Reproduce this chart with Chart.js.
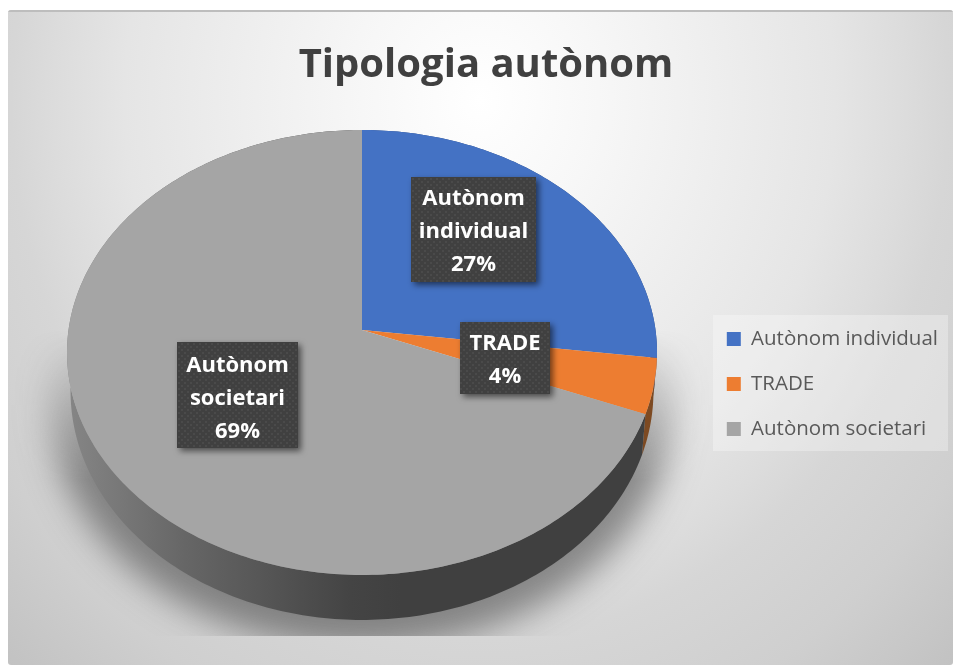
<!DOCTYPE html>
<html><head><meta charset="utf-8">
<style>html,body{margin:0;padding:0;background:#fff}canvas{display:block}</style>
<script src="https://cdn.jsdelivr.net/npm/chart.js@4"></script></head>
<body><div style="width:953px;height:665px"><canvas id="c" width="953" height="665"></canvas></div>
<script>
const titleText = 'Tipologia autònom';
const categories = ['Autònom individual', 'TRADE', 'Autònom societari'];
const values = [27, 4, 69];
const topColors = ['#4472c4', '#ed7d31', '#a5a5a5'];

// perspective view of the pie disc
const view = {cx: 362, cy: 330, A: 293.5, B: 220.2, k: -0.101, lowerWidth: 0.988};
function project(a, r, dropBase, dropNear) {
  const u = r * Math.cos(a), v = r * Math.sin(a), d = 1 + view.k * v;
  const lowered = dropBase !== undefined;
  const drop = lowered ? dropBase + dropNear * Math.sin(a) : 0;
  return [view.cx + (lowered ? view.lowerWidth : 1) * view.A * u / d, view.cy + view.B * v / d + drop];
}
const Arc = Chart.registry.getElement('arc');
Arc.prototype.draw = function (ctx) {
  const {startAngle, endAngle} = this.getProps(['startAngle', 'endAngle']);
  ctx.save();
  ctx.beginPath();
  ctx.moveTo(...project(startAngle, 0));
  const n = Math.ceil((endAngle - startAngle) * 60);
  for (let i = 0; i <= n; i++) ctx.lineTo(...project(startAngle + (endAngle - startAngle) * i / n, 1));
  ctx.closePath();
  ctx.fillStyle = this.options.backgroundColor;
  ctx.fill();
  ctx.restore();
};

const backdrop = {
  id: 'backdrop',
  beforeDraw(chart) {
    const c = chart.ctx;
    c.save();
    c.fillStyle = '#fff'; c.fillRect(0, 0, 953, 665);
    c.beginPath(); c.roundRect(8, 10, 945, 655, 3); c.clip();
    c.save();
    c.translate(480, 100); c.scale(540, 620);
    const g = c.createRadialGradient(0, 0, 0, 0, 0, 1.4);
    g.addColorStop(0, '#ffffff'); g.addColorStop(0.157, '#f7f7f7');
    g.addColorStop(0.47, '#e5e5e5'); g.addColorStop(0.564, '#dcdcdc');
    g.addColorStop(0.62, '#d6d6d6'); g.addColorStop(0.757, '#cfcfcf');
    g.addColorStop(0.89, '#c3c3c3'); g.addColorStop(1, '#bdbdbd');
    c.fillStyle = g; c.fillRect(-2, -2, 4, 4);
    c.restore();
    c.fillStyle = '#bdbdbd'; c.fillRect(8, 10, 945, 2);
    c.restore();
    c.save();
    c.fillStyle = 'rgba(255,255,255,0.3)';
    c.fillRect(713, 315, 235, 136);
    c.restore();
  }
};

function sideGradient(c) {
  const g = c.createLinearGradient(70, 0, 400, 0);
  g.addColorStop(0, '#858585'); g.addColorStop(0.35, '#666666');
  g.addColorStop(0.85, '#444444'); g.addColorStop(1, '#404040');
  return g;
}
const DROP = 38, NEAR = 7;
function softShadow(c) {
  const off = document.createElement('canvas');
  off.width = 953; off.height = 665;
  const s = off.getContext('2d');
  s.filter = 'blur(17px)';
  s.fillStyle = 'rgba(60,60,60,0.55)';
  s.beginPath();
  for (let i = 0; i <= 240; i++) {
    const p = project(Math.PI * 2 * i / 240, 1.07, 44, 10);
    i ? s.lineTo(...p) : s.moveTo(...p);
  }
  s.closePath(); s.fill();
  s.filter = 'none';
  s.globalCompositeOperation = 'destination-in';
  const f = s.createLinearGradient(0, 330, 0, 480);
  f.addColorStop(0, 'rgba(0,0,0,0)'); f.addColorStop(1, 'rgba(0,0,0,1)');
  s.fillStyle = f; s.fillRect(0, 0, 953, 665);
  c.save();
  c.beginPath(); c.rect(8, 330, 945, 636 - 330); c.clip();
  c.drawImage(off, 0, 0);
  c.restore();
}
const extrude = {
  id: 'extrude',
  beforeDatasetsDraw(chart) {
    const c = chart.ctx;
    softShadow(c);
    const els = chart.getDatasetMeta(0).data;
    const sideCols = ['#2c4a80', '#7d4a22', sideGradient(c)];
    els.forEach((el, idx) => {
      const {startAngle: s, endAngle: e} = el.getProps(['startAngle', 'endAngle']);
      const n = Math.ceil((e - s) * 60);
      c.beginPath();
      for (let i = 0; i <= n; i++) {
        const p = project(s + (e - s) * i / n, 1);
        i ? c.lineTo(...p) : c.moveTo(...p);
      }
      for (let i = n; i >= 0; i--) c.lineTo(...project(s + (e - s) * i / n, 1, DROP, NEAR));
      c.closePath();
      c.fillStyle = sideCols[idx];
      c.fill();
    });
  }
};

function dots() {
  const p = document.createElement('canvas');
  p.width = 6; p.height = 6;
  const x = p.getContext('2d');
  x.fillStyle = '#404040'; x.fillRect(0, 0, 6, 6);
  x.fillStyle = '#4a4a4a'; x.fillRect(1, 1, 2, 2); x.fillRect(4, 4, 2, 2);
  return p;
}
const labelBoxes = [
  {x: 411, y: 177, w: 125, h: 105, first: 205},
  {x: 460, y: 322, w: 90, h: 72, first: 350},
  {x: 177, y: 342, w: 121, h: 106, first: 372}
];
const boxLabels = {
  id: 'boxLabels',
  afterDatasetsDraw(chart) {
    const c = chart.ctx, pat = c.createPattern(dots(), 'repeat');
    categories.forEach((name, i) => {
      const b = labelBoxes[i];
      c.save();
      c.shadowColor = 'rgba(0,0,0,0.55)'; c.shadowBlur = 6; c.shadowOffsetX = 3; c.shadowOffsetY = 3;
      c.fillStyle = pat; c.fillRect(b.x, b.y, b.w, b.h);
      c.restore();
      c.save();
      c.fillStyle = '#fff'; c.font = '700 22px "Open Sans"';
      c.textAlign = 'center'; c.textBaseline = 'alphabetic';
      const lines = name.split(' ').concat(values[i] + '%');
      lines.forEach((t, j) => c.fillText(t, b.x + b.w / 2, b.first + j * 33));
      c.restore();
    });
  }
};

new Chart(document.getElementById('c'), {
  type: 'pie',
  data: {labels: categories, datasets: [{data: values, backgroundColor: topColors, borderWidth: 0}]},
  plugins: [backdrop, extrude, boxLabels],
  options: {
    responsive: false, animation: false,
    layout: {padding: {left: 24, right: 5}},
    plugins: {
      tooltip: {enabled: false},
      title: {display: true, text: titleText, color: '#404040',
        font: {family: '"Open Sans"', size: 40, weight: '700'}, padding: {top: 42, bottom: 13}},
      legend: {position: 'right', fullSize: false,
        labels: {boxWidth: 14, boxHeight: 14, padding: 24.5, color: '#595959',
          font: {family: '"Open Sans"', size: 20.5}}}
    }
  }
});
</script></body></html>
